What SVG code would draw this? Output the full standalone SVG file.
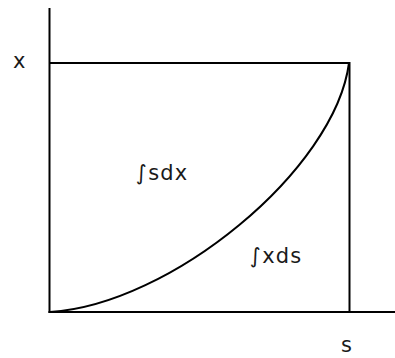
<svg xmlns="http://www.w3.org/2000/svg" width="395" height="358" viewBox="0 0 395 358">
<style>
.ln{stroke:#000;stroke-width:2;fill:none}
.t{font-family:"DejaVu Sans","Liberation Sans",sans-serif;font-size:21px;fill:#1a1a1a}
.w{letter-spacing:1.2px}
</style>
<rect width="395" height="358" fill="#fff"/>
<g id="connectors">
<line class="ln" x1="49.5" y1="8" x2="49.5" y2="313"/>
<line class="ln" x1="48.5" y1="312" x2="395" y2="312"/>
<line class="ln" x1="49.5" y1="63" x2="350" y2="63"/>
<line class="ln" x1="349.5" y1="62" x2="349.5" y2="312"/>
<path class="ln" d="M50,312 C170,305 335,170 349,63"/>
</g>
<g id="label-x"><text class="t" x="13" y="68">x</text></g>
<g id="label-s"><text class="t" x="341" y="352">s</text></g>
<g id="area-sdx"><text class="t w" x="136" y="180">∫sdx</text></g>
<g id="area-xds"><text class="t w" x="250" y="263">∫xds</text></g>
</svg>
